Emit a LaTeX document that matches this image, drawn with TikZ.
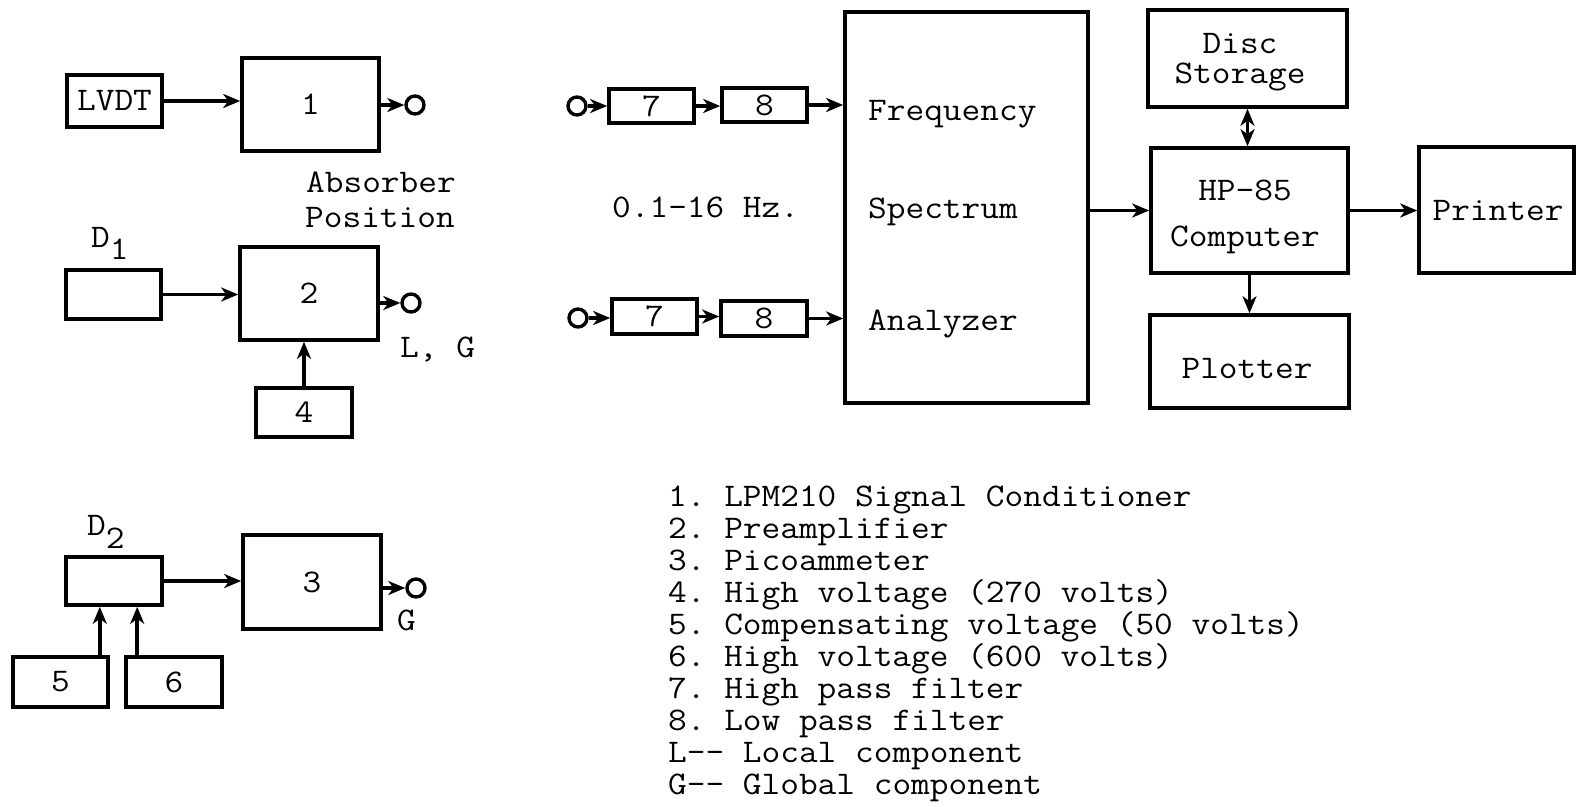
\documentclass[tikz,border=0pt]{standalone}
\usepackage{fontspec}
\setmonofont{Latin Modern Mono}[FakeStretch=1.1]
\usepackage{tikz}
\usetikzlibrary{arrows.meta, positioning}

\begin{document}
\begin{tikzpicture}[x=1pt, y=-1pt, >={Stealth[length=17pt, width=14pt, inset=5pt]},
    every node/.style={font=\ttfamily\fontsize{33}{32}\selectfont, inner sep=0pt},
    blk/.style={draw, line width=3.6pt},
    term/.style={draw, circle, line width=3.4pt, minimum size=18pt},
    sig/.style={->, line width=3.6pt}]
    \useasboundingbox (0,0) rectangle (1576,806);

    % 1. Nhanh LVDT -> 1
    \node[blk, minimum width=95pt, minimum height=52pt] (lvdt) at (114.5,101) {LVDT};
    \node[blk, minimum width=137pt, minimum height=93pt] (b1) at (310.5,104.5) {1};
    \node[term] (o1) at (415,105) {};
    \draw[sig] (lvdt) -- (lvdt -| b1.west);
    \draw[sig] (b1.east |- o1) -- (o1);
    \node[anchor=base west] (abs1) at (306,192) {Absorber};
    \node[anchor=base west] (abs2) at (305,227) {Position};

    % 2. Nhanh D1 -> 2, nguon 4
    \node[anchor=base west] (lbd1) at (91,247) {D\raisebox{-12pt}{1}};
    \node[blk, minimum width=95pt, minimum height=49pt] (d1) at (113.5,294.5) {};
    \node[blk, minimum width=138pt, minimum height=93pt] (b2) at (309,293.5) {2};
    \node[term] (o2) at (411,303) {};
    \node[blk, minimum width=96pt, minimum height=49pt] (b4) at (304,412.5) {4};
    \draw[sig] (d1) -- (d1 -| b2.west);
    \draw[sig] (b2.east |- o2) -- (o2);
    \draw[sig] (b4) -- (b4 |- b2.south);
    \node[anchor=base west] (lg) at (400,357) {L, G};

    % 3. Nhanh D2 -> 3, nguon 5 va 6
    \node[anchor=base west] (lbd2) at (87,535) {D\raisebox{-13pt}{2}};
    \node[blk, minimum width=96pt, minimum height=48pt] (d2) at (114,581) {};
    \node[blk, minimum width=138pt, minimum height=94pt] (b3) at (312,582) {3};
    \node[term] (o3) at (416,588) {};
    \node[blk, minimum width=95pt, minimum height=50pt] (b5) at (60.5,682) {5};
    \node[blk, minimum width=96pt, minimum height=50pt] (b6) at (174,682) {6};
    \draw[sig] (d2) -- (d2 -| b3.west);
    \draw[sig] (b3.east |- o3) -- (o3);
    \draw[sig] ([xshift=-10pt]b5.north east) -- ([xshift=-10pt]b5.north east |- d2.south);
    \draw[sig] ([xshift=13pt]b6.north west) -- ([xshift=13pt]b6.north west |- d2.south);
    \node[anchor=base west] (lgg) at (397,630) {G};

    % 4. Bo loc 7, 8 va may phan tich pho
    \node[blk, minimum width=243pt, minimum height=391pt] (ana) at (966.5,207.5) {};
    \node[anchor=base west] (fr) at (868,120) {Frequency};
    \node[anchor=base west] (sp) at (868,218) {Spectrum};
    \node[anchor=base west] (an) at (868,330) {Analyzer};
    \node[term] (i1) at (577,106) {};
    \node[blk, minimum width=85pt, minimum height=34pt] (f7a) at (651.5,106) {7};
    \node[blk, minimum width=85pt, minimum height=34pt] (f8a) at (764.5,105) {8};
    \node[term] (i2) at (578,318) {};
    \node[blk, minimum width=85pt, minimum height=35pt] (f7b) at (654.5,316.5) {7};
    \node[blk, minimum width=86pt, minimum height=35pt] (f8b) at (764,318.5) {8};
    \draw[sig] (i1) -- (i1 -| f7a.west);
    \draw[sig] (f7a) -- (f7a -| f8a.west);
    \draw[sig] (f8a) -- (f8a -| ana.west);
    \draw[sig] (i2) -- (i2 -| f7b.west);
    \draw[sig] (f7b) -- (f7b -| f8b.west);
    \draw[sig] (f8b) -- (f8b -| ana.west);
    \node[anchor=base west] (hz) at (612,217) {0.1-16 Hz.};

    % 5. May tinh HP-85 va ngoai vi
    \node[blk, minimum width=199pt, minimum height=97pt] (disc) at (1247.5,58.5) {};
    \node[blk, minimum width=197pt, minimum height=125pt] (hp) at (1249.5,210.5) {};
    \node[blk, minimum width=199pt, minimum height=93pt] (plt) at (1249.5,361.5) {};
    \node[blk, minimum width=155pt, minimum height=126pt] (prn) at (1496.5,210) {};
    \node[align=center] (disct) at (1240,62) {Disc\\[-2pt]Storage};
    \node[align=center] (hpt) at (1245,217) {HP-85\\[14pt]Computer};
    \node (pltt) at (1247,369) {Plotter};
    \node (prnt) at (1498,211) {Printer};
    \draw[sig] (ana.east |- hp.west) -- (hp.west);
    \draw[sig] (hp.east) -- (hp.east -| prn.west);
    \draw[<->, line width=3.6pt] (disc.south) -- (disc.south |- hp.north);
    \draw[sig] (hp.south) -- (hp.south |- plt.north);

    % 6. Chu thich
    \foreach \i/\txt in {0/{1. LPM210 Signal Conditioner}, 1/{2. Preamplifier},
        2/{3. Picoammeter}, 3/{4. High voltage (270 volts)},
        4/{5. Compensating voltage (50 volts)}, 5/{6. High voltage (600 volts)},
        6/{7. High pass filter}, 7/{8. Low pass filter},
        8/{L-- Local component}, 9/{G-- Global component}}
        \node[anchor=base west] (leg\i) at (668,{506+32*\i}) {\txt};

\end{tikzpicture}
\end{document}
